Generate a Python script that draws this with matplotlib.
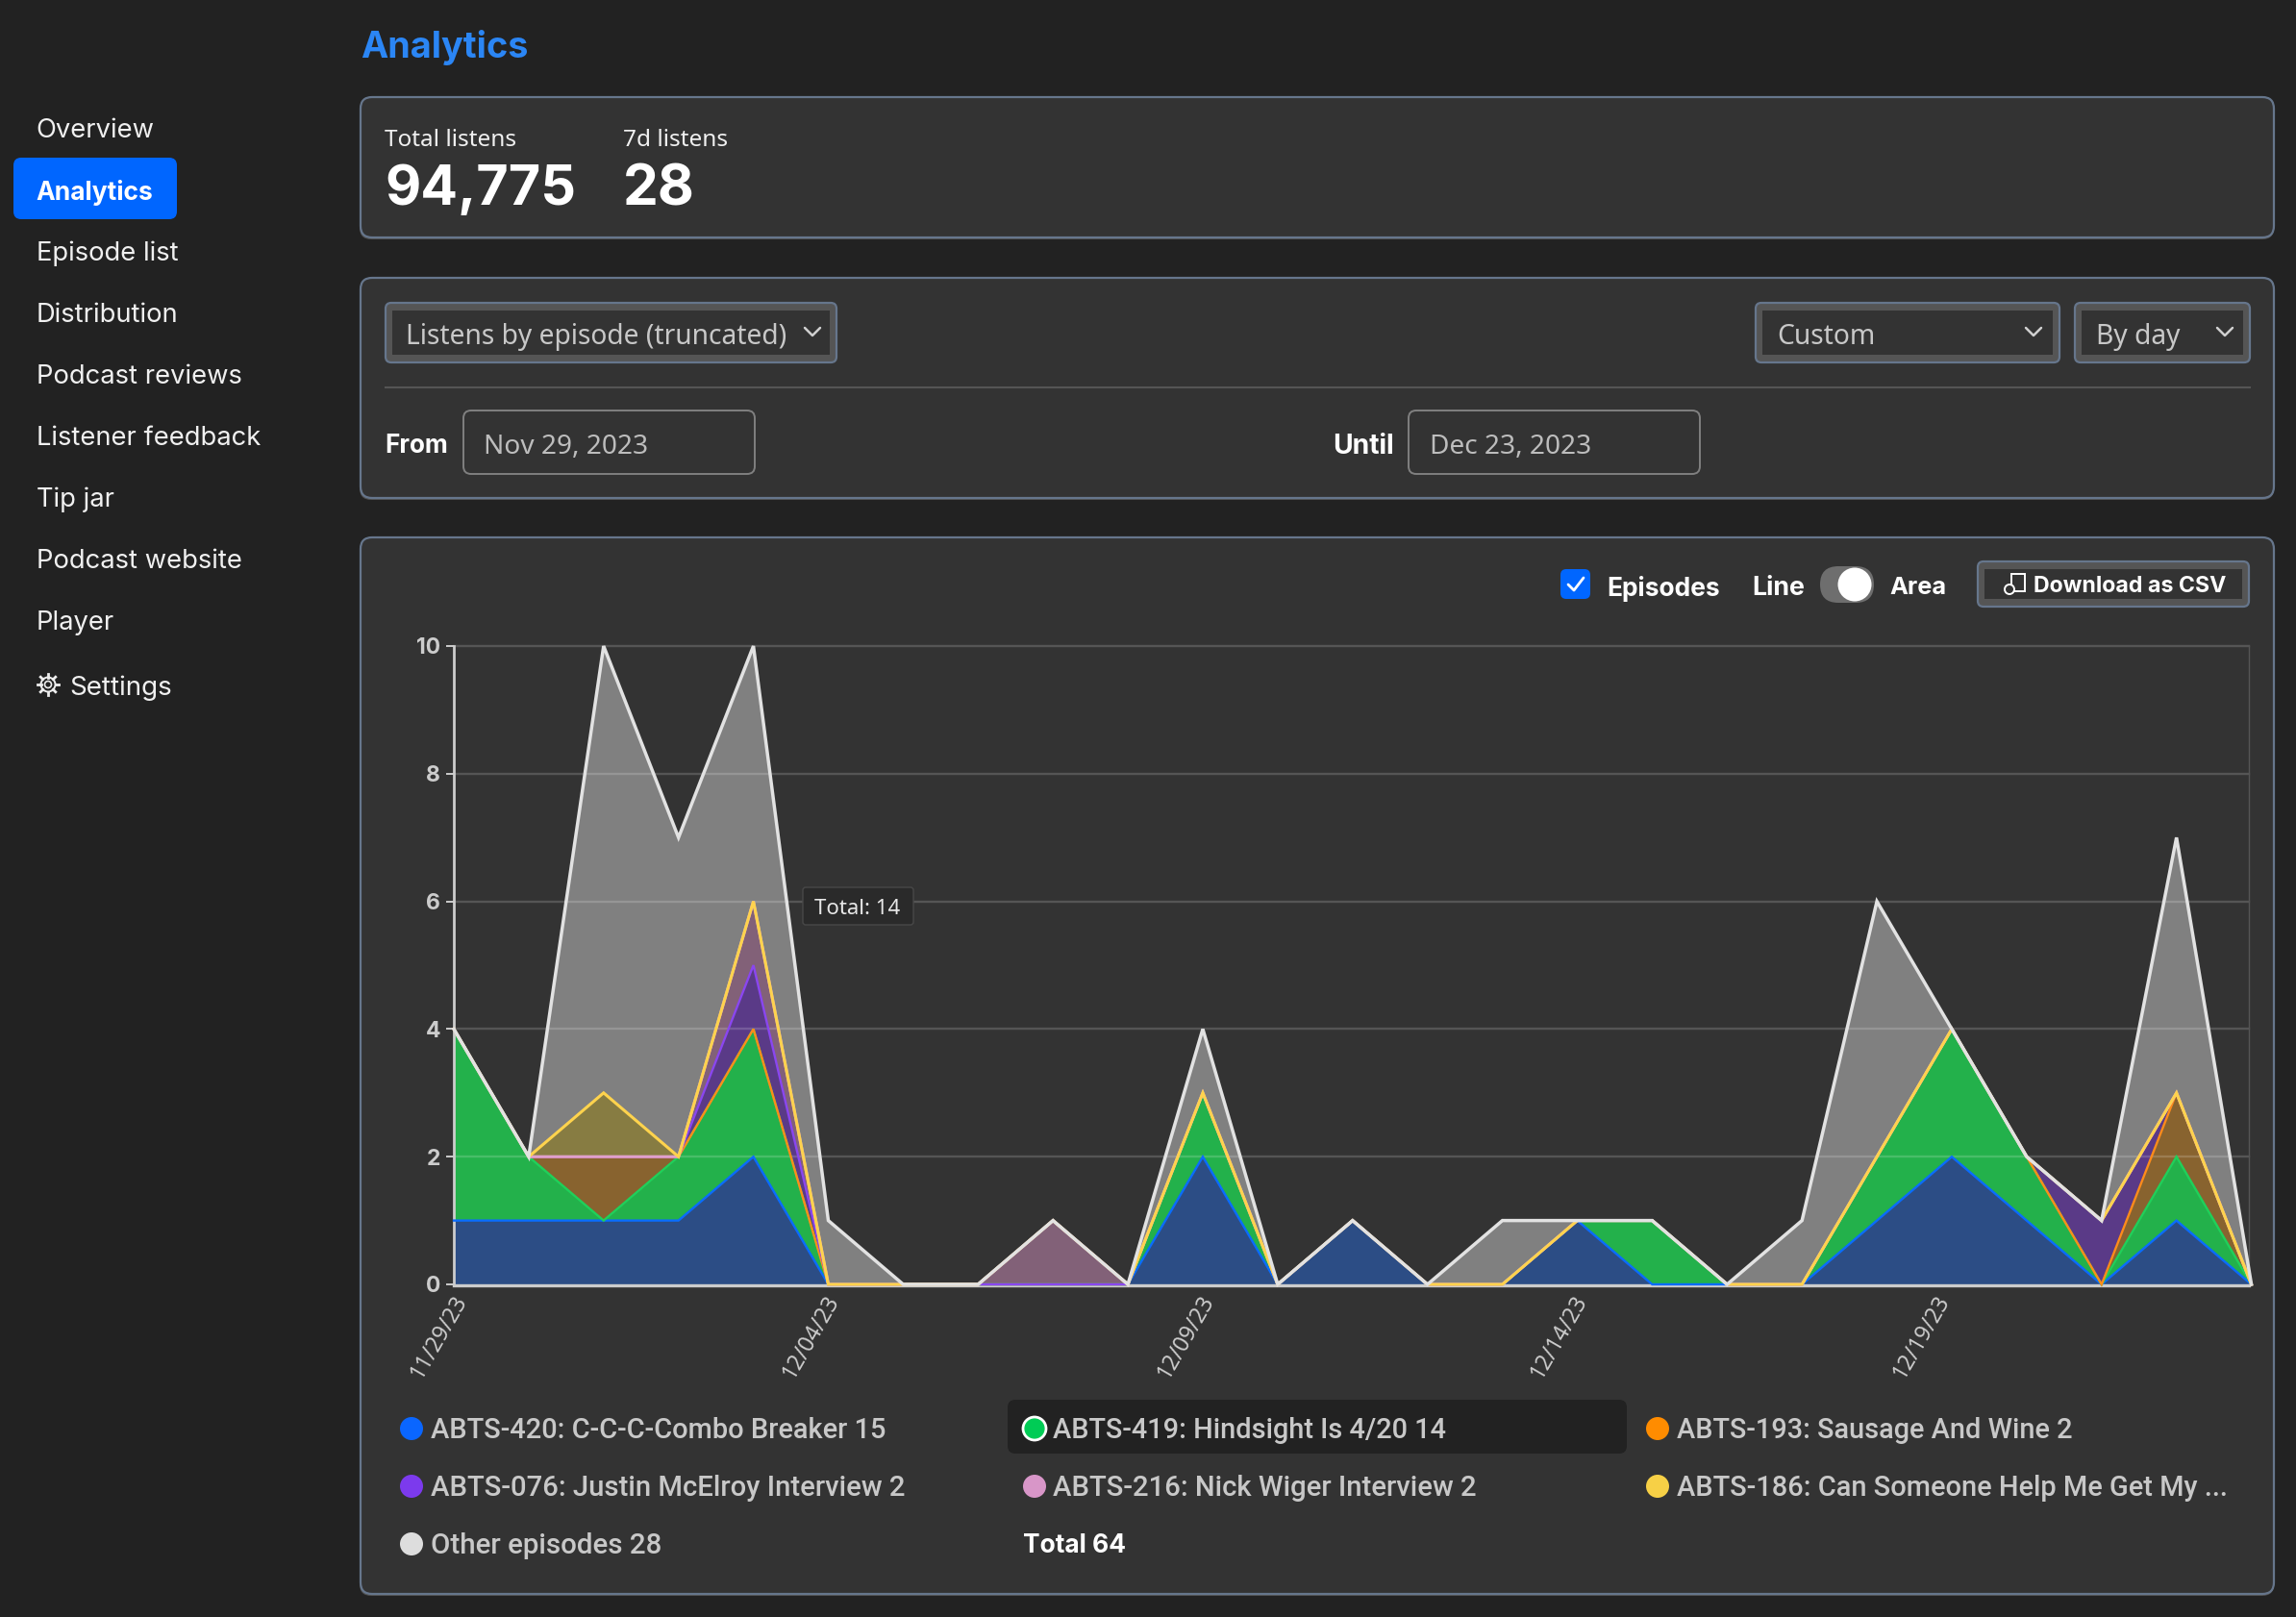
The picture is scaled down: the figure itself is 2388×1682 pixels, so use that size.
import numpy as np
import matplotlib
matplotlib.use("Agg")
import matplotlib.pyplot as plt
from matplotlib.patches import FancyBboxPatch, Circle
from matplotlib.transforms import ScaledTranslation

# ---------- data ----------
dates = ["11/29/23","11/30/23","12/01/23","12/02/23","12/03/23","12/04/23","12/05/23","12/06/23","12/07/23",
         "12/08/23","12/09/23","12/10/23","12/11/23","12/12/23","12/13/23","12/14/23","12/15/23","12/16/23",
         "12/17/23","12/18/23","12/19/23","12/20/23","12/21/23","12/22/23","12/23/23"]
abts_420 = [1,1,1,1,2,0,0,0,0,0,2,0,1,0,0,1,0,0,0,1,2,1,0,1,0]
abts_419 = [3,1,0,1,2,0,0,0,0,0,1,0,0,0,0,0,1,0,0,1,2,1,0,1,0]
abts_193 = [0,0,1,0,0,0,0,0,0,0,0,0,0,0,0,0,0,0,0,0,0,0,0,1,0]
abts_076 = [0,0,0,0,1,0,0,0,0,0,0,0,0,0,0,0,0,0,0,0,0,0,1,0,0]
abts_216 = [0,0,0,0,1,0,0,0,1,0,0,0,0,0,0,0,0,0,0,0,0,0,0,0,0]
abts_186 = [0,0,1,0,0,0,0,0,0,0,0,0,0,0,0,0,0,0,0,0,0,0,0,0,0]
other    = [0,0,7,5,4,1,0,0,0,0,1,0,0,0,1,0,0,0,1,4,0,0,0,4,0]
series = [abts_420, abts_419, abts_193, abts_076, abts_216, abts_186, other]
line_colors = ["#0a6cff","#1fd05a","#ff8c1a","#8a46f0","#e0a0cc","#ffd34d","#e2e2e2"]
fill_colors = ["#2c4d85","#23b14b","#88632f","#5a3a87","#826178","#877c42","#808080"]
y_ticks = [0,2,4,6,8,10]
x_tick_idx = [0,5,10,15,20]
nav_items = ["Overview","Analytics","Episode list","Distribution","Podcast reviews",
             "Listener feedback","Tip jar","Podcast website","Player"]
legend_labels = [["ABTS-420: C-C-C-Combo Breaker 15","ABTS-419: Hindsight Is 4/20 14","ABTS-193: Sausage And Wine 2"],
                 ["ABTS-076: Justin McElroy Interview 2","ABTS-216: Nick Wiger Interview 2","ABTS-186: Can Someone Help Me Get My ..."],
                 ["Other episodes 28","Total 64",""]]
legend_widths = [[474,408,411],[492,441,574],[241,107,0]]
legend_dots = [["#0a66ff","#00cc55","#ff8c00"],["#7c3aed","#d896c8","#f7d046"],["#dddddd",None,None]]

W, H = 2388, 1682
BG, PANEL, SLATE = "#222222", "#333333", "#66768c"
FONT = "Noto Sans"
BOLD = "Inter"
MED = "Roboto"
NAVFONT = "Inter"
fig = plt.figure(figsize=(W/100, H/100), dpi=100, facecolor=BG)
rend = fig.canvas.get_renderer()

def overlay(z):
    a = fig.add_axes([0,0,1,1], zorder=z)
    a.set_xlim(0,W); a.set_ylim(H,0); a.axis("off")
    a.patch.set_alpha(0)
    return a
ui = overlay(0)
top = overlay(5)

def box(a,x0,y0,x1,y1,fc,ec="none",lw=0,r=8,z=1):
    a.add_patch(FancyBboxPatch((x0,y0),x1-x0,y1-y0,boxstyle=f"round,pad=0,rounding_size={r}",
                               fc=fc,ec=ec,lw=lw,zorder=z,mutation_aspect=1))
def txt(a,x,y,s,size,color="#ffffff",weight="normal",ha="left",family=FONT,fit=None,**k):
    t = a.text(x,y,s,fontsize=size,color=color,fontweight=weight,ha=ha,va="center_baseline",family=family,zorder=6,**k)
    if fit:
        w = t.get_window_extent(rend).width
        t.set_fontsize(size*fit/w)
    return t
def panel(y0,y1):
    box(ui,374,y0+2,2365,y1+2,"#505050",r=12,z=1)
    box(ui,375,y0,2365,y1,PANEL,SLATE,1.6,r=12,z=2)
def chevron(x,y,c="#d0d0d0"):
    ui.plot([x-8,x,x+8],[y-4,y+4,y-4],color=c,lw=1.8,zorder=6,solid_capstyle="round")
def dropdown(x0,x1,y0,y1):
    box(ui,x0,y0,x1,y1,"#555555",SLATE,1.6,r=6,z=3)
    ui.add_patch(plt.Rectangle((x0+7,y0+8),x1-x0-14,y1-y0-16,fc=PANEL,ec="none",zorder=4))

# ---------- sidebar ----------
box(ui,14,164,184,228,"#0066ff",r=8,z=2)
nav_y = [133,197,261,325,389,453,517,581,645]
for s,y in zip(nav_items,nav_y):
    act = s=="Analytics"
    txt(ui,37.5,y,s,19 if act else 19.7,"#ffffff" if act else "#f0f0f0","bold" if act else "normal",family=NAVFONT)
txt(ui,72,713,"Settings",20,"#f0f0f0",family=NAVFONT)
ui.add_patch(Circle((50,712),7.5,fc="none",ec="#eeeeee",lw=1.4,zorder=5))
ui.add_patch(Circle((50,712),3.5,fc="none",ec="#eeeeee",lw=1.2,zorder=5))
for ang in np.deg2rad(np.arange(0,360,45)):
    ui.plot([50+7.5*np.cos(ang),50+11*np.cos(ang)],[712+7.5*np.sin(ang),712+11*np.sin(ang)],color="#eeeeee",lw=2,zorder=5)

# ---------- header + stats ----------
txt(ui,375,45,"Analytics",28,"#2b86f5","bold",family=BOLD,fit=174)
panel(101,247)
txt(ui,400,143,"Total listens",17.5,"#f0f0f0")
txt(ui,648,143,"7d listens",17.5,"#f0f0f0")
txt(ui,400,192,"94,775",44,"#ffffff","bold",family=BOLD,fit=199)
txt(ui,648,192,"28",44,"#ffffff","bold",family=BOLD,fit=75)

# ---------- filters ----------
panel(289,518)
dropdown(401,870,315,377)
txt(ui,422,347,"Listens by episode (truncated)",20.3,"#c8c8c8")
chevron(845,345)
dropdown(1826,2142,315,377)
txt(ui,1848,347,"Custom",20.3,"#c8c8c8")
chevron(2115,345)
dropdown(2158,2340,315,377)
txt(ui,2180,347,"By day",20.3,"#c8c8c8")
chevron(2314,345)
ui.plot([401,2340],[403,403],color="#555555",lw=1.5,zorder=5)
txt(ui,400,461,"From",20,"#ffffff","bold",family=BOLD,fit=66)
box(ui,482,427,785,493,PANEL,"#808080",1.4,r=8,z=3)
txt(ui,503,461,"Nov 29, 2023",20.2,"#bdbdbd")
txt(ui,1386,461,"Until",20,"#ffffff","bold",family=BOLD,fit=64)
box(ui,1465,427,1768,493,PANEL,"#808080",1.4,r=8,z=3)
txt(ui,1487,461,"Dec 23, 2023",20.2,"#bdbdbd")

# ---------- chart panel ----------
panel(559,1658)
box(ui,1623,592,1654,623,"#0066ff",r=6,z=3)
ui.plot([1631,1637,1647],[608,614,601],color="white",lw=2,zorder=6,solid_capstyle="round")
txt(ui,1671,609,"Episodes",20,"#ffffff","bold",family=BOLD,fit=118)
txt(ui,1822,609,"Line",20,"#ffffff","bold",family=BOLD,fit=55)
box(ui,1893,589,1949,627,"#6e6e6e",r=19,z=3)
ui.add_patch(Circle((1929,608),17.5,fc="white",ec="none",zorder=5))
txt(ui,1965,609,"Area",20,"#ffffff","bold",family=BOLD,fit=59)
dropdown(2057,2339,584,631)
ui.add_patch(plt.Rectangle((2092,597),14,18,fc="none",ec="white",lw=1.4,zorder=6))
ui.add_patch(Circle((2090,613),5,fc=PANEL,ec="white",lw=1.4,zorder=7))
txt(ui,2115,608,"Download as CSV",17,"#ffffff","bold",family=BOLD,fit=200)

# ---------- chart ----------
x0,x1,y0,y1 = 472,2339,672,1336
ax = fig.add_axes([x0/W,1-y1/H,(x1-x0)/W,(y1-y0)/H],zorder=2)
ax.patch.set_alpha(0)
x = np.arange(len(dates))
cum = np.cumsum(np.array(series),axis=0)
base = np.zeros(len(dates))
for top_vals,c in zip(cum,fill_colors):
    ax.fill_between(x,base,top_vals,color=c,lw=0,zorder=2)
    base = top_vals
for v in y_ticks[1:]:
    ax.axhline(v,color="white",alpha=.17,lw=1.7,zorder=3)
for top_vals,c,lw in zip(cum,line_colors,[1.7,1.7,1.7,1.7,2.2,2.2,2.5]):
    ax.plot(x,top_vals,color=c,lw=lw,zorder=4,solid_joinstyle="miter")
ax.set_xlim(0,(x1-x0)/77.9); ax.set_ylim(0,10)
ax.spines["top"].set_visible(False)
ax.spines["right"].set_color("#555555"); ax.spines["right"].set_linewidth(1)
ax.spines["left"].set_color("#cccccc"); ax.spines["left"].set_linewidth(2)
ax.spines["bottom"].set_color("#cccccc"); ax.spines["bottom"].set_linewidth(2.4)
ax.spines["bottom"].set_position(("outward",0.8))
for s in ax.spines.values(): s.set_zorder(3.5)
for l in ax.lines: l.set_clip_on(False)
ax.set_yticks(y_ticks)
ax.set_yticklabels([str(v) for v in y_ticks],fontsize=16.5,color="#cccccc",fontweight="bold",family=BOLD)
ax.tick_params(axis="y",length=6,width=1.4,color="#cccccc",pad=4)
ax.set_xticks(x_tick_idx)
labels = ax.set_xticklabels([dates[i] for i in x_tick_idx],rotation=60,ha="right",va="top",
                            fontsize=16.5,color="#cccccc",family=FONT,rotation_mode="default")
ax.tick_params(axis="x",length=0,pad=4)
for l,dx in zip(labels,[19,17,17,16,3]):
    l.set_transform(l.get_transform()+ScaledTranslation(dx/100,0,fig.dpi_scale_trans))

# tooltip
box(top,835,923,950,962,"#2a2a2a","#484848",1,r=3,z=3)
txt(top,892,943,"Total: 14",16,"#e8e8e8",ha="center")

# ---------- legend ----------
box(ui,1048,1456,1692,1512,BG,r=8,z=3)
col_dot, col_txt = [428,1076,1724],[448,1095,1744]
row_y = [1485,1545,1605]
for r,y in enumerate(row_y):
    for c in range(3):
        s, d, wd = legend_labels[r][c], legend_dots[r][c], legend_widths[r][c]
        if not s: continue
        if d is None:
            txt(ui,1064,y,s,20,"#ffffff","bold",family=BOLD,fit=wd)
            continue
        ring = (r,c)==(0,1)
        ui.add_patch(Circle((col_dot[c],y+1),12,fc=d,ec="white" if ring else "none",lw=2 if ring else 0,zorder=5))
        txt(ui,col_txt[c],y,s,20,"#c8c8c8","medium",family=MED,fit=wd)

fig.savefig("out.png",dpi=100,facecolor=BG)
